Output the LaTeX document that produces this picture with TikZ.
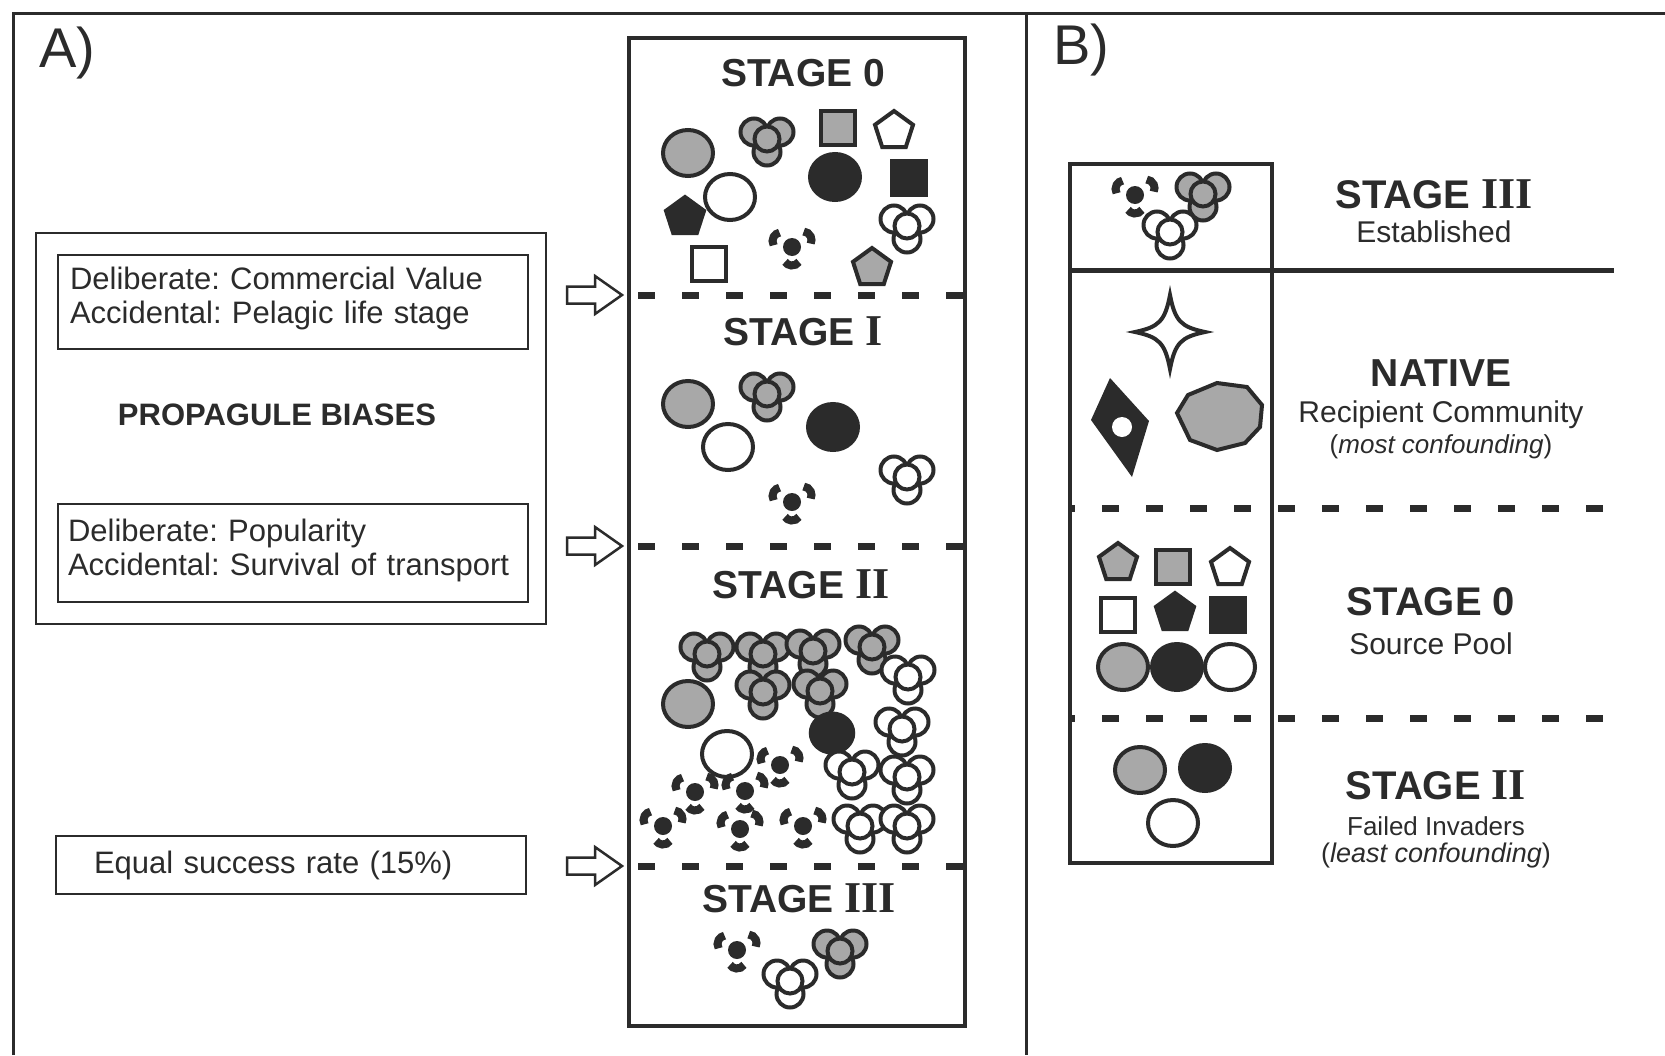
\documentclass[tikz,border=0pt]{standalone}
\usepackage{fontspec}
\setmainfont{Liberation Sans}
\newfontfamily\romfont{Liberation Serif}
\usetikzlibrary{positioning}

\definecolor{ink}{HTML}{2B2B2B}
\definecolor{gry}{HTML}{A8A8A8}

\newcommand{\stg}[1]{\textbf{STAGE} {\romfont\bfseries\fontsize{44}{44}\selectfont #1}}
\frenchspacing

\tikzset{
  rim/.style={draw=ink, line width=4pt},
  panel/.style={draw=ink, line width=3.5pt},
  sepline/.style={draw=ink, line width=7pt, dash pattern=on 17pt off 27pt},
  biasbox/.style={draw=ink, line width=2.5pt, align=left, inner xsep=12pt, text width=446pt,
    font=\fontsize{31}{34}\selectfont, text=ink},
  stagehead/.style={font=\bfseries\fontsize{39}{42}\selectfont, text=ink},
  subtext/.style={font=\fontsize{30}{33}\selectfont, text=ink},
  pics/disc/.style={code={\draw[pic actions] (0,0) ellipse[x radius=25, y radius=23];}},
  pics/sq/.style={code={\draw[pic actions] (-17,-17) rectangle (17,17);}},
  pics/pent/.style={code={\draw[pic actions] (270:20) -- (342:20) -- (54:20) -- (126:20) -- (198:20) -- cycle;}},
  pics/clover/.style={code={
    \foreach \dx/\dy/\r in {-13/-8/13.5, 13/-8/13.5, 0/12/13.5, 0/-1/12.5}
      \draw[pic actions] (\dx,\dy) circle[radius=\r];}},
  pics/crumb/.style={code={
    \fill[ink] (0,0) circle[radius=9];
    \foreach \a/\dx/\dy in {205/-11/-6, 330/11/-7, 90/0/10}
      \draw[ink, line width=8pt] (\dx,\dy) ++(\a-55:8.5) arc[start angle=\a-55, end angle=\a+55, radius=8.5];}},
  pics/sparkle/.style={code={
    \draw[pic actions] (0,-37) .. controls (5,-11) and (11,-5) .. (35,0)
      .. controls (11,5) and (5,11) .. (0,37) .. controls (-5,11) and (-11,5) .. (-35,0)
      .. controls (-11,-5) and (-5,-11) .. (0,-37) -- cycle;}},
  pics/openarrow/.style={code={
    \draw[ink, line width=2.5pt, line join=miter, fill=white] (-55,-8.5) -- (-27,-8.5) -- (-27,-19)
      -- (0,0) -- (-27,19) -- (-27,8.5) -- (-55,8.5) -- cycle;}}
}

\begin{document}
\begin{tikzpicture}[x=1pt, y=-1pt]
\useasboundingbox (0,0) rectangle (1665,1055);

% outer frame
\draw[ink, line width=3pt] (13,1055) -- (13,13) -- (1665,13);
\draw[ink, line width=3pt] (1026,13) -- (1026,1055);
\node[font=\fontsize{56}{56}\selectfont, text=ink] (lblA) at (67,53) {A)};
\node[font=\fontsize{56}{56}\selectfont, text=ink] (lblB) at (1081,50) {B)};

% A: propagule biases
\draw[ink, line width=2.5pt] (36,233) rectangle (546,624);
\node[biasbox, minimum width=470pt, minimum height=94pt] (bias1) at (293,302)
  {Deliberate: Commercial Value\\Accidental: Pelagic life stage\vspace{8pt}};
\node[font=\bfseries\fontsize{31}{34}\selectfont, text=ink] (pbias) at (277,415) {PROPAGULE BIASES};
\node[biasbox, minimum width=470pt, minimum height=98pt, inner xsep=10pt, text width=450pt] (bias2) at (293,553)
  {Deliberate: Popularity\\Accidental: Survival of transport\vspace{6pt}};
\node[biasbox, minimum width=470pt, minimum height=58pt, inner xsep=38pt, text width=394pt] (bias3) at (291,865)
  {Equal success rate (15\%)};

% A: stage column
\draw[panel, line width=4pt] (629,38) rectangle (965,1026);
\coordinate (d1) at (629,295);
\coordinate (d2) at (629,546);
\coordinate (d3) at (629,866);
\draw[sepline, dash phase=35pt] (d1) -- (965,295);
\draw[sepline, dash phase=35pt] (d2) -- (965,546);
\draw[sepline, dash phase=35pt] (d3) -- (965,866);
\pic at ([xshift=-7pt]d1) {openarrow};
\pic at ([xshift=-7pt]d2) {openarrow};
\pic at ([xshift=-7pt]d3) {openarrow};

\node[stagehead] (s0) at (803,73) {STAGE 0};
\node[stagehead] (s1) at (803,331) {\stg{I}};
\node[stagehead] (s2) at (801,584) {\stg{II}};
\node[stagehead] (s3) at (799,898) {\stg{III}};

% stage 0
\pic[rim, fill=gry] at (688,153) {disc};
\pic[rim, fill=gry] at (767,140) {clover};
\pic[rim, fill=gry] at (838,128) {sq};
\pic[rim, fill=white] at (894,131) {pent};
\pic[rim, fill=ink] at (835,177) {disc};
\pic[rim, fill=ink] at (909,178) {sq};
\pic[rim, fill=white] at (730,197) {disc};
\pic[rim, fill=ink] at (685,217) {pent};
\pic[rim, fill=white] at (907,227) {clover};
\pic at (792,247) {crumb};
\pic[rim, fill=white] at (709,264) {sq};
\pic[rim, fill=gry] at (872,268) {pent};

% stage I
\pic[rim, fill=gry] at (688,404) {disc};
\pic[rim, fill=gry] at (767,395) {clover};
\pic[rim, fill=ink] at (833,427) {disc};
\pic[rim, fill=white] at (728,447) {disc};
\pic[rim, fill=white] at (907,478) {clover};
\pic at (792,502) {crumb};

% stage II
\foreach \x/\y in {707/655, 763/655, 813/652, 872/648, 763/693, 820/692}
  \pic[rim, fill=gry] at (\x,\y) {clover};
\pic[rim, fill=gry] at (688,704) {disc};
\pic[rim, fill=ink, scale=0.85] at (832,733) {disc};
\pic[rim, fill=white] at (727,754) {disc};
\foreach \x/\y in {908/678, 902/730, 852/773, 907/778, 860/827, 907/827}
  \pic[rim, fill=white] at (\x,\y) {clover};
\foreach \x/\y in {780/765, 745/791, 695/792, 663/826, 740/829, 803/826}
  \pic at (\x,\y) {crumb};

% stage III
\pic at (737,950) {crumb};
\pic[rim, fill=white] at (790,982) {clover};
\pic[rim, fill=gry] at (840,952) {clover};

% B: column
\draw[panel] (1070,164) rectangle (1272,863);
\draw[ink, line width=5pt] (1070,270) -- (1614,270);
\draw[sepline, dash phase=12pt] (1070,508) -- (1614,508);
\draw[sepline, dash phase=12pt] (1070,718) -- (1614,718);

\pic at (1135,195) {crumb};
\pic[rim, fill=gry] at (1203,195) {clover};
\pic[rim, fill=white] at (1170,233) {clover};

\pic[rim, fill=white] at (1170,332) {sparkle};
\fill[ink] (1110,378) -- (1149,421) -- (1132,477) -- (1091,420) -- cycle;
\fill[white] (1122,427) circle[radius=10];
\draw[rim, fill=gry] (1177,413) -- (1188,395) -- (1217,383) -- (1247,387) -- (1262,405)
  -- (1260,427) -- (1245,443) -- (1217,450) -- (1190,440) -- cycle;

\pic[rim, fill=gry] at (1118,563) {pent};
\pic[rim, fill=gry] at (1173,567) {sq};
\pic[rim, fill=white] at (1230,568) {pent};
\pic[rim, fill=white] at (1118,615) {sq};
\pic[rim, fill=ink] at (1175,613) {pent};
\pic[rim, fill=ink] at (1228,615) {sq};
\pic[rim, fill=gry] at (1123,667) {disc};
\pic[rim, fill=ink] at (1177,667) {disc};
\pic[rim, fill=white] at (1230,667) {disc};

\pic[rim, fill=gry] at (1140,770) {disc};
\pic[rim, fill=ink] at (1205,768) {disc};
\pic[rim, fill=white] at (1173,823) {disc};

% B: labels
\node[stagehead, font=\bfseries\fontsize{40}{42}\selectfont] (b3) at (1434,194) {\stg{III}};
\node[subtext] (b3s) at (1434,232) {Established};
\node[stagehead] (bn) at (1441,373) {NATIVE};
\node[subtext] (bns) at (1441,415) {Recipient Community};
\node[font=\fontsize{26}{30}\selectfont, text=ink] (bnn) at (1441,447) {(\textit{most confounding})};
\node[stagehead, font=\bfseries\fontsize{40}{42}\selectfont] (b0) at (1431,602) {STAGE 0};
\node[subtext] (b0s) at (1431,644) {Source Pool};
\node[stagehead, font=\bfseries\fontsize{40}{42}\selectfont] (b2) at (1436,785) {\stg{II}};
\node[font=\fontsize{26}{30}\selectfont, text=ink] (b2s) at (1436,826) {Failed Invaders};
\node[font=\fontsize{27}{30}\selectfont, text=ink] (b2n) at (1436,856) {(\textit{least confounding})};
\end{tikzpicture}
\end{document}
